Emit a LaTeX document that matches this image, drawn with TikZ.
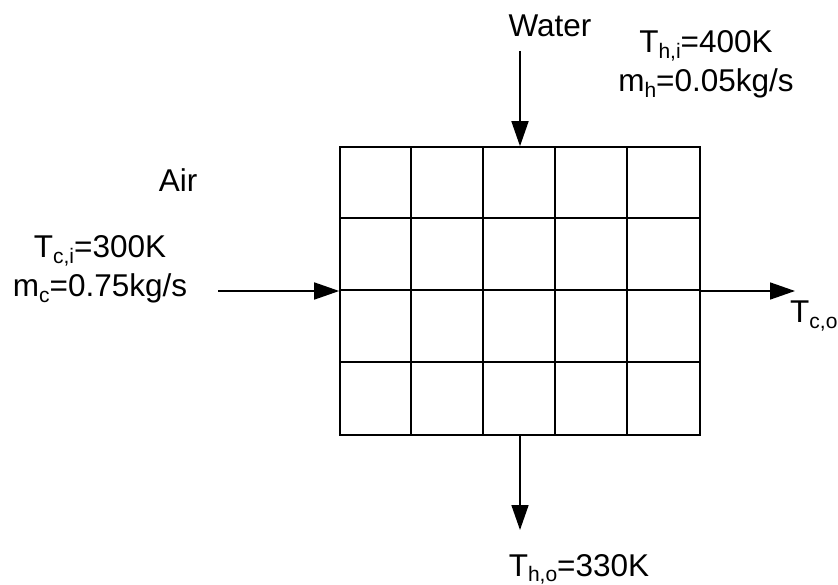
\documentclass[tikz,border=0pt]{standalone}
\usepackage{fontspec}
\setmainfont{Liberation Sans}
\usetikzlibrary{arrows.meta,calc}
\newcommand{\lsub}[1]{\raisebox{-5.5pt}{\fontsize{21}{21}\selectfont #1}}
\tikzset{
  lbl/.style={inner sep=0pt, anchor=base, font=\fontsize{31.5}{38}\selectfont},
  flow/.style={line width=1.6pt, -{Triangle[length=25pt,width=17pt]}},
  hxbox/.style={draw, line width=1.6pt, minimum width=360pt, minimum height=288pt, inner sep=0pt}
}
\begin{document}
\begin{tikzpicture}[x=1pt,y=-1pt]
\useasboundingbox (0,0) rectangle (838,585);
% heat exchanger grid
\node[hxbox] (hx) at (520,291) {};
\foreach \i in {1,...,4} {
  \draw[line width=1.6pt] ($(hx.north west)+(72*\i,0)$) -- ($(hx.south west)+(72*\i,0)$);
}
\foreach \j in {1,...,3} {
  \draw[line width=1.6pt] ($(hx.north west)+(0,72*\j)$) -- ($(hx.north east)+(0,72*\j)$);
}
% free ends
\coordinate (win) at (520,51);
\coordinate (wout) at (520,530);
\coordinate (ain) at (218,291);
\coordinate (aout) at (795,291);
\draw[flow] (win) -- (hx.north);
\draw[flow] (hx.south) -- (wout);
\draw[flow] (ain) -- (hx.west);
\draw[flow] (hx.east) -- (aout);
% labels
\node[lbl] (water) at (550,37) {Water};
\node[lbl] (thi) at (706,53) {T\lsub{h,i}=400K};
\node[lbl] (mh) at (706,92) {m\lsub{h}=0.05kg/s};
\node[lbl] (air) at (178,192) {Air};
\node[lbl] (tci) at (100,258) {T\lsub{c,i}=300K};
\node[lbl] (mc) at (100,297) {m\lsub{c}=0.75kg/s};
\node[lbl] (tho) at (579,576) {T\lsub{h,o}=330K};
\node[lbl, anchor=base west] (tco) at (790,323) {T\lsub{c,o}};
\end{tikzpicture}
\end{document}
